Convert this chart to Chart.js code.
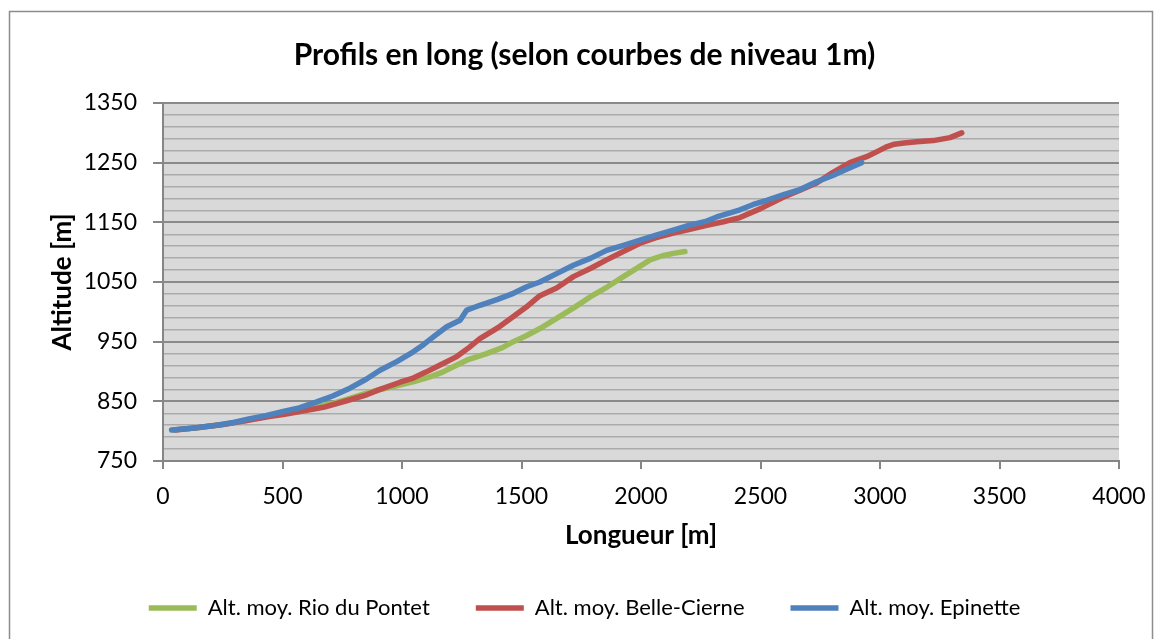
<!DOCTYPE html>
<html><head><meta charset="utf-8">
<script src="https://cdn.jsdelivr.net/npm/chart.js@4.4.1/dist/chart.umd.min.js"></script>
<style>html,body{margin:0;padding:0;background:#fff;} canvas{display:block;}</style>
</head><body>
<canvas id="c" width="1163" height="639"></canvas>
<script>
const titleText = 'Profils en long (selon courbes de niveau 1m)';
const xAxisTitle = 'Longueur [m]';
const yAxisTitle = 'Altitude [m]';
const seriesNames = ['Alt. moy. Rio du Pontet', 'Alt. moy. Belle-Cierne', 'Alt. moy. Epinette'];
const seriesColors = ['#9BBB59', '#C0504D', '#4F81BD'];
const xTickValues = [0, 500, 1000, 1500, 2000, 2500, 3000, 3500, 4000];
const yTickLabels = [750, 850, 950, 1050, 1150, 1250, 1350];
const yMinorStep = 20;

const rioX = [45, 150, 250, 350, 450, 550, 650, 713, 782, 838, 900, 978, 1050, 1117, 1170, 1215, 1271, 1354, 1420, 1466, 1520, 1577, 1647, 1720, 1787, 1860, 1926, 1990, 2038, 2090, 2135, 2184];
const rioY = [802, 806, 811, 818, 826, 834, 842, 847, 855, 862, 869, 876, 883, 891, 899, 908, 919, 930, 940, 950, 960, 972, 989, 1007, 1025, 1042, 1059, 1075, 1087, 1094, 1098, 1101];

const belleX = [50, 150, 250, 350, 450, 503, 573, 671, 768, 852, 908, 992, 1047, 1100, 1145, 1229, 1280, 1326, 1400, 1466, 1520, 1577, 1647, 1717, 1790, 1856, 1930, 1996, 2060, 2135, 2200, 2275, 2345, 2414, 2500, 2595, 2665, 2735, 2800, 2874, 2944, 3000, 3030, 3060, 3100, 3153, 3223, 3293, 3342];
const belleY = [802, 806, 811, 818, 825, 828, 833, 840, 851, 861, 870, 882, 889, 899, 908, 925, 940, 955, 973, 992, 1008, 1027, 1040, 1059, 1073, 1087, 1102, 1115, 1124, 1132, 1138, 1145, 1151, 1158, 1173, 1192, 1204, 1216, 1233, 1250, 1260, 1271, 1277, 1281, 1283, 1285, 1287, 1292, 1300];

const epiX = [36, 120, 225, 300, 364, 430, 503, 570, 643, 710, 782, 850, 908, 980, 1047, 1090, 1131, 1187, 1243, 1271, 1326, 1400, 1466, 1522, 1577, 1647, 1717, 1790, 1856, 1930, 1996, 2060, 2135, 2200, 2275, 2317, 2414, 2470, 2526, 2600, 2665, 2735, 2800, 2860, 2923];
const epiY = [802, 805, 810, 815, 821, 826, 833, 839, 849, 859, 872, 887, 902, 917, 933, 945, 958, 975, 986, 1003, 1011, 1021, 1031, 1042, 1050, 1064, 1078, 1090, 1103, 1112, 1120, 1128, 1137, 1145, 1152, 1159, 1171, 1180, 1187, 1197, 1205, 1218, 1228, 1239, 1250];

const toPts = (xs, ys) => xs.map((x, i) => ({x: x, y: ys[i]}));
const seriesX = [rioX, belleX, epiX];
const seriesY = [rioY, belleY, epiY];

const FONT = 'Lato, "Open Sans", sans-serif';

const bgPlugin = {
  id: 'bg',
  beforeDraw(chart) {
    const {ctx, chartArea: a} = chart;
    ctx.save();
    ctx.fillStyle = '#ffffff';
    ctx.fillRect(0, 0, chart.width, chart.height);
    ctx.strokeStyle = '#8c8c8c';
    ctx.lineWidth = 1.5;
    ctx.strokeRect(9.5, 11.5, 1143, 640);
    ctx.fillStyle = '#D9D9D9';
    ctx.fillRect(a.left, a.top, a.right - a.left, a.bottom - a.top);
    ctx.restore();
  }
};

const datasets = seriesNames.map((name, i) => ({
  label: name,
  data: toPts(seriesX[i], seriesY[i]),
  borderColor: seriesColors[i],
  backgroundColor: seriesColors[i],
  borderWidth: 5.5,
  borderCapStyle: 'round',
  borderJoinStyle: 'round',
  pointRadius: 0,
  pointHoverRadius: 0,
  pointStyle: 'line',
  tension: 0,
  fill: false,
  order: 2 - i
}));

new Chart(document.getElementById('c'), {
  type: 'line',
  data: { datasets: datasets },
  plugins: [bgPlugin],
  options: {
    responsive: false,
    animation: false,
    devicePixelRatio: 1,
    layout: { padding: { left: 50, right: 44, top: 0, bottom: 10 } },
    plugins: {
      tooltip: { enabled: false },
      title: {
        display: true,
        text: titleText,
        color: '#000',
        font: { family: FONT, size: 30, weight: 'bold', lineHeight: 1.2 },
        padding: { top: 37, bottom: 30 }
      },
      legend: {
        position: 'bottom',
        labels: {
          sort: (a, b) => a.datasetIndex - b.datasetIndex,
          usePointStyle: true,
          pointStyle: 'line',
          pointStyleWidth: 48,
          padding: 46,
          color: '#000',
          font: { family: FONT, size: 22 }
        }
      }
    },
    scales: {
      x: {
        type: 'linear',
        min: 0, max: 4000,
        afterBuildTicks: s => { s.ticks = xTickValues.map(v => ({value: v})); },
        afterFit: s => { s.height = 90; s.paddingLeft = 0; s.paddingRight = 0; },
        ticks: { color: '#000', padding: 14, font: { family: FONT, size: 23 }, autoSkip: false, maxRotation: 0, callback: v => String(v) },
        grid: { drawOnChartArea: false, drawTicks: true, tickLength: 8, color: '#868686', lineWidth: 2 },
        border: { display: true, color: '#868686', width: 2 },
        title: { display: true, text: xAxisTitle, color: '#000', font: { family: FONT, size: 26, weight: 'bold', lineHeight: 1.2 }, padding: { top: 0, bottom: 0 } }
      },
      y: {
        type: 'linear',
        min: 750, max: 1350,
        afterBuildTicks: s => {
          const t = [];
          for (let v = yTickLabels[0]; v <= yTickLabels[yTickLabels.length - 1]; v += yMinorStep) t.push({value: v});
          s.ticks = t;
        },
        afterFit: s => { s.width = 113; s.paddingTop = 0; s.paddingBottom = 0; },
        ticks: {
          color: '#000', padding: 16, autoSkip: false,
          font: { family: FONT, size: 23 },
          callback: v => yTickLabels.includes(v) ? String(v) : ''
        },
        grid: {
          drawTicks: true, tickLength: 10,
          color: c => yTickLabels.includes(c.tick && c.tick.value) ? '#8a8a8a' : '#ababab',
          lineWidth: c => yTickLabels.includes(c.tick && c.tick.value) ? 2 : 1.5,
          tickColor: c => yTickLabels.includes(c.tick && c.tick.value) ? '#868686' : 'rgba(0,0,0,0)'
        },
        border: { display: true, color: '#868686', width: 2 },
        title: { display: true, text: yAxisTitle, color: '#000', font: { family: FONT, size: 26, weight: 'bold', lineHeight: 1.0 }, padding: { top: 0, bottom: 0 } }
      }
    }
  }
});
</script>
</body></html>
